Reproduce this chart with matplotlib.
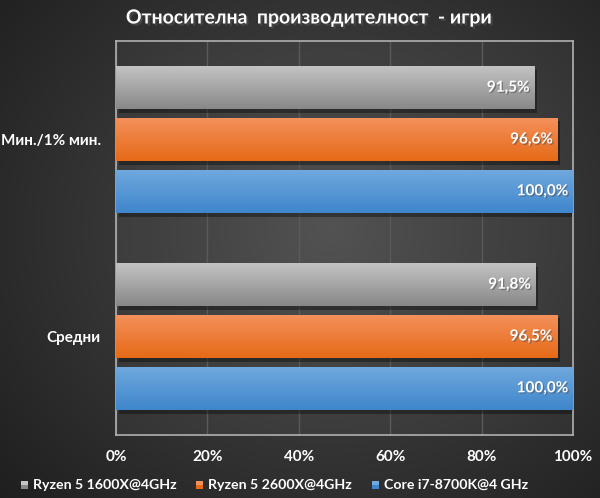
import numpy as np
import matplotlib
matplotlib.use("Agg")
import matplotlib.pyplot as plt
import matplotlib.patheffects as pe
from matplotlib.patches import Rectangle

plt.rcParams['font.family'] = ['Lato', 'DejaVu Sans']

# данни
categories = ['Средни', 'Мин./1% мин.']
series_names = ['Ryzen 5 1600X@4GHz', 'Ryzen 5 2600X@4GHz', 'Core i7-8700K@4 GHz']
values = {
    'Ryzen 5 1600X@4GHz': [91.8, 91.5],
    'Ryzen 5 2600X@4GHz': [96.5, 96.6],
    'Core i7-8700K@4 GHz': [100.0, 100.0],
}
ticks = [0, 20, 40, 60, 80, 100]
title = 'Относителна  производителност  - игри'

# цветове: горе / долу на градиента
colors = {
    'Ryzen 5 1600X@4GHz': ('#c4c4c4', '#888888'),
    'Ryzen 5 2600X@4GHz': ('#f4915c', '#e66a17'),
    'Core i7-8700K@4 GHz': ('#70a9de', '#3f86cc'),
}

fig = plt.figure(figsize=(6.0, 4.98), dpi=100)

# радиален фон
bg = fig.add_axes([0, 0, 1, 1], zorder=-5)
yy, xx = np.mgrid[0:498, 0:600]
r = np.sqrt(((xx - 330) / 420.0) ** 2 + ((yy - 230) / 380.0) ** 2)
shade = np.clip(0.30 - 0.17 * r, 0.10, 0.30)
bg.imshow(np.dstack([shade, shade, shade]), aspect='auto', extent=[0, 1, 0, 1])
bg.axis('off')

ax = fig.add_axes([116 / 600, 1 - 435 / 498, 457 / 600, 394 / 498])
ax.set_facecolor((1, 1, 1, 0.035))

bar_h = 0.22
step = 0.263
y = np.arange(len(categories))
grad = np.linspace(0, 1, 64).reshape(-1, 1)

for i, name in enumerate(series_names):
    offset = (1 - i) * step
    top, bot = colors[name]
    # сянка
    ax.barh(y + offset - 0.018, values[name], height=bar_h, left=0.6,
            color='black', alpha=0.35, zorder=2)
    bars = ax.barh(y + offset, values[name], height=bar_h, color=bot, zorder=3)
    c1 = np.array(matplotlib.colors.to_rgb(top))
    c2 = np.array(matplotlib.colors.to_rgb(bot))
    img = c1 + (c2 - c1) * grad[:, :, None] * np.ones((1, 1, 3))
    for b, v in zip(bars, values[name]):
        x0, y0 = b.get_x(), b.get_y()
        w, h = b.get_width(), b.get_height()
        im = ax.imshow(img, aspect='auto', extent=[x0, x0 + w, y0, y0 + h],
                       origin='upper', zorder=4)
        im.set_clip_path(b)
        ax.text(v - 1.0, y0 + h / 2, f'{v:.1f}%'.replace('.', ','),
                ha='right', va='center', color='white', fontsize=11,
                fontweight='bold', zorder=6,
                path_effects=[pe.withSimplePatchShadow(offset=(1, -1), alpha=0.5)])

ax.set_xlim(0, 100)
ax.set_ylim(-0.5, 1.5)
ax.set_xticks(ticks)
ax.set_xticklabels([f'{t}%' for t in ticks], color='white', fontsize=11,
                   fontweight='bold')
ax.set_yticks(y)
ax.set_yticklabels(categories, color='white', fontsize=11, fontweight='bold')
ax.tick_params(axis='both', length=0)
ax.tick_params(axis='y', pad=11)
ax.tick_params(axis='x', pad=11)
ax.grid(axis='x', color='#5a5a5a', linewidth=1, zorder=0)
ax.set_axisbelow(True)
for s in ax.spines.values():
    s.set_color('#b0b0b0')
    s.set_linewidth(1.2)

fig.text(310 / 600, 1 - 18 / 498, title, ha='center', va='center', color='white',
         fontsize=14, fontweight='bold',
         path_effects=[pe.withSimplePatchShadow(offset=(1.5, -1.5), alpha=0.7)])

# легенда
leg_x = [21, 196, 372]
for xpx, name in zip(leg_x, series_names):
    top, bot = colors[name]
    sq = Rectangle((xpx / 600, (498 - 489) / 498), 7 / 600, 8 / 498,
                   transform=fig.transFigure, facecolor=bot, edgecolor='none')
    fig.patches.append(sq)
    sq_top = Rectangle((xpx / 600, (498 - 485) / 498), 7 / 600, 4 / 498,
                       transform=fig.transFigure, facecolor=top, edgecolor='none')
    fig.patches.append(sq_top)
    fig.text((xpx + 12) / 600, 1 - 485 / 498, name, ha='left', va='center',
             color='white', fontsize=10.2, fontweight='bold')

fig.savefig('out.png', dpi=100)
